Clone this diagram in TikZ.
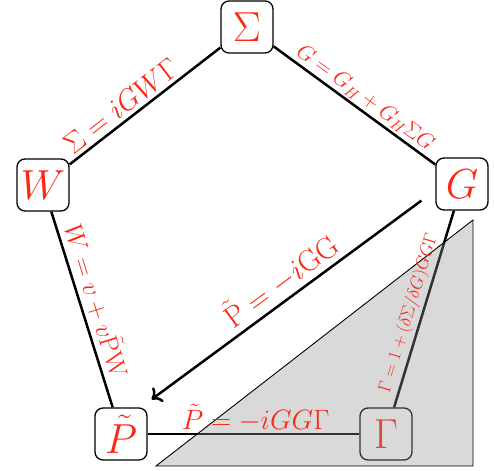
\RequirePackage{fix-cm}
\documentclass[tikz,border=0pt]{standalone}
\usetikzlibrary{arrows.meta,calc}
\definecolor{lblred}{RGB}{250,40,20}
\definecolor{trigray}{RGB}{145,145,145}
\tikzset{
  vert/.style={draw=black, line width=1.3pt, rounded corners=8pt, fill=white,
    minimum width=52pt, minimum height=52pt, inner sep=0pt, text=lblred,
    font=\fontsize{42}{46}\selectfont},
  edge/.style={line width=2.5pt},
  lbl/.style={text=lblred, sloped, above, inner sep=3pt},
  tri/.style={draw=black, line width=0.9pt, fill=trigray, fill opacity=0.345},
}
\begin{document}
\begin{tikzpicture}[x=1pt,y=-1pt]
\useasboundingbox (0,0) rectangle (494,470);
\node[vert] (S) at (247,27) {$\Sigma$};
\node[vert] (W) at (43,185) {$W$};
\node[vert] (G) at (462,184) {$G$};
\node[vert] (Pt) at (121,434) {$\tilde P$};
\node[vert] (Gm) at (386,434) {$\Gamma$};
\draw[edge] (S) -- (W);
\draw[edge] (S) -- (G);
\draw[edge] (W) -- (Pt);
\draw[edge] (Pt) -- (Gm);
\draw[edge] (Gm) -- (G);
\coordinate (a1) at ($(G.south west)+(-14,-10)$);
\coordinate (a2) at ($(Pt.north east)+(4,-8)$);
\draw[edge,-{To[length=9pt,width=18pt]}] (a1) -- (a2);
\draw[tri] (156,466) -- (473,220) -- (473,466) -- cycle;
\path (W) -- (S) node[lbl, pos=0.40, inner sep=5pt, font=\fontsize{29}{32}\selectfont] {$\Sigma = iGW\Gamma$};
\path (S) -- (G) node[lbl, pos=0.52, font=\fontsize{22}{26}\selectfont] {$G = G_H + G_H\Sigma G$};
\path (W) -- (Pt) node[lbl, pos=0.48, inner sep=5pt, font=\fontsize{26}{30}\selectfont] {$W = v + v\tilde{\mathrm{P}}\mathrm{W}$};
\path (Gm) -- (G) node[lbl, pos=0.46, inner sep=4pt, font=\fontsize{18}{22}\selectfont] {$\Gamma = 1 + (\delta\Sigma/\delta G)GG\Gamma$};
\path (Pt) -- (Gm) node[lbl, pos=0.51, inner sep=2pt, font=\fontsize{28}{32}\selectfont] {$\tilde P = -iGG\Gamma$};
\path (a1) -- (a2) node[lbl, pos=0.48, inner sep=5pt, font=\fontsize{30}{34}\selectfont] {$\tilde{\mathrm{P}} = -i\mathrm{GG}$};
\end{tikzpicture}
\end{document}
